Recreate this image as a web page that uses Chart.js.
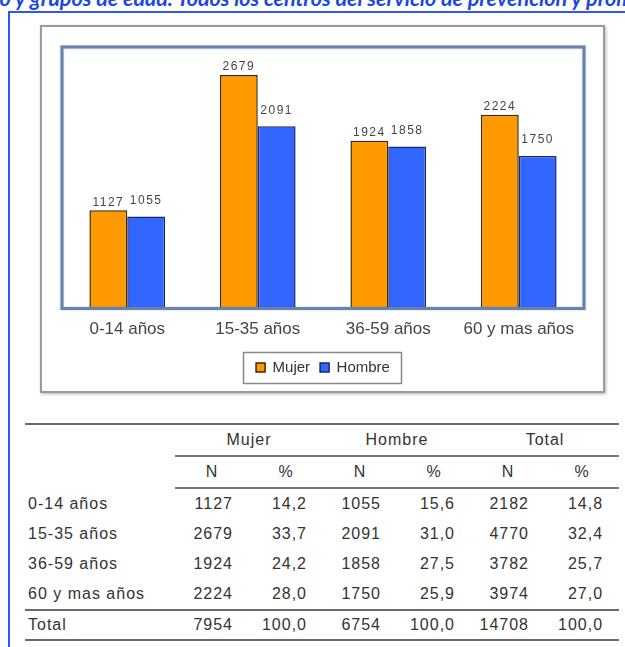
<!DOCTYPE html>
<html>
<head>
<meta charset="utf-8">
<script src="https://cdn.jsdelivr.net/npm/chart.js@4"></script>
<style>
  body { margin: 0; background: #fff; width: 625px; height: 647px; overflow: hidden; position: relative;
         font-family: 'Liberation Sans', Arial, sans-serif; }
  #title { position: absolute; top: -12px; left: 0; white-space: nowrap; font-family: Lato, sans-serif;
           font-weight: 700; font-style: italic; font-size: 21.5px; line-height: 21px; color: #1b46e6; }
  #frame { position: absolute; left: 8px; top: 11px; width: 700px; height: 700px;
           border-left: 2px solid #2c58f0; border-top: 2px solid #2c58f0; }
  #box { position: absolute; left: 40px; top: 25px; width: 565px; height: 368px; box-sizing: border-box;
         border: 2px solid #9a9a9a; box-shadow: 1px 1px 3px rgba(0,0,0,.3); background: #fff; }
  #chart { position: absolute; left: 40px; top: 25px; }
  #tbl { position: absolute; left: 25px; top: 423px; width: 594px; border-collapse: collapse; table-layout: fixed;
         font-size: 16px; color: #333; letter-spacing: 1px; }
  #tbl td { padding: 0 16px 0 0; text-align: right; height: 30px; }
  #tbl td.lab { text-align: left; padding-left: 3px; }
  #tbl tr.h1 td { border-top: 2px solid #6a6a6a; height: 30px; }
  #tbl tr.h1 td.g, #tbl tr.h2 td.g { border-bottom: 2px solid #777; text-align: center; padding: 0; }
  #tbl tr.tot td { border-top: 2px solid #6a6a6a; border-bottom: 2px solid #6a6a6a; height: 28px; }
</style>
</head>
<body>
<div id="title"><span id="pre">Distribución por sex</span>o y grupos de edad. Todos los centros del servicio de prevención y promoción</div>
<div id="frame"></div>
<div id="box"></div>
<canvas id="chart" width="565" height="368"></canvas>
<table id="tbl">
  <colgroup><col style="width:150px"><col style="width:74px"><col style="width:74px"><col style="width:74px"><col style="width:74px"><col style="width:74px"><col style="width:74px"></colgroup>
  <tbody id="tbody"></tbody>
</table>
<script>
// datos
const categories = ['0-14 años', '15-35 años', '36-59 años', '60 y mas años'];
const seriesNames = ['Mujer', 'Hombre'];
const mujer = [1127, 2679, 1924, 2224];
const hombre = [1055, 2091, 1858, 1750];
const mujerPct = ['14,2', '33,7', '24,2', '28,0'];
const hombrePct = ['15,6', '31,0', '27,5', '25,9'];
const totalN = [2182, 4770, 3782, 3974];
const totalPct = ['14,8', '32,4', '25,7', '27,0'];
const totalRow = [7954, '100,0', 6754, '100,0', 14708, '100,0'];

// titulo recortado como en la imagen
var pre = document.getElementById('pre');
document.getElementById('title').style.left = (-pre.offsetWidth) + 'px';

// tabla
var tb = document.getElementById('tbody');
var html = '<tr class="h1"><td></td>' + ['Mujer', 'Hombre', 'Total'].map(function (g) {
  return '<td class="g" colspan="2">' + g + '</td>';
}).join('') + '</tr>';
html += '<tr class="h2"><td></td>' + ['N', '%', 'N', '%', 'N', '%'].map(function (h) {
  return '<td class="g">' + h + '</td>';
}).join('') + '</tr>';
categories.forEach(function (c, i) {
  html += '<tr><td class="lab">' + c + '</td><td>' + mujer[i] + '</td><td>' + mujerPct[i] + '</td><td>' +
    hombre[i] + '</td><td>' + hombrePct[i] + '</td><td>' + totalN[i] + '</td><td>' + totalPct[i] + '</td></tr>';
});
html += '<tr class="tot"><td class="lab">Total</td>' + totalRow.map(function (v) { return '<td>' + v + '</td>'; }).join('') + '</tr>';
tb.innerHTML = html;

// marco del area de trazado
var plotFrame = {
  id: 'plotFrame',
  afterDatasetsDraw: function (chart) {
    var a = chart.chartArea, ctx = chart.ctx;
    ctx.save();
    ctx.strokeStyle = '#6683b0';
    ctx.lineWidth = 3;
    ctx.shadowColor = 'rgba(60,80,120,0.35)';
    ctx.shadowBlur = 2;
    ctx.strokeRect(a.left, a.top, a.right - a.left, a.bottom - a.top);
    ctx.restore();
  }
};

// etiquetas de valor
var labelOffsets = [8, 16];
var valueLabels = {
  id: 'valueLabels',
  afterDatasetsDraw: function (chart) {
    var ctx = chart.ctx;
    ctx.save();
    ctx.font = '12px "Liberation Sans", Arial, sans-serif';
    ctx.letterSpacing = '1.5px';
    ctx.fillStyle = '#444';
    ctx.textAlign = 'center';
    ctx.textBaseline = 'middle';
    chart.data.datasets.forEach(function (ds, i) {
      chart.getDatasetMeta(i).data.forEach(function (bar, j) {
        ctx.fillText(ds.data[j], bar.x, bar.y - labelOffsets[i]);
      });
    });
    ctx.restore();
  }
};

// recuadro de la leyenda
var legendBox = {
  id: 'legendBox',
  afterDraw: function (chart) {
    var hb = chart.legend.legendHitBoxes, ctx = chart.ctx;
    if (!hb || !hb.length) return;
    var l = Math.min.apply(null, hb.map(function (h) { return h.left; })) - 13;
    var r = Math.max.apply(null, hb.map(function (h) { return h.left + h.width; })) + 11;
    var t = hb[0].top - 8, b = hb[0].top + hb[0].height + 8;
    ctx.save();
    ctx.strokeStyle = '#8a8a8a';
    ctx.lineWidth = 1.5;
    ctx.strokeRect(Math.round(l) + 0.5, Math.round(t) + 0.5, Math.round(r - l), Math.round(b - t));
    ctx.restore();
  }
};

Chart.defaults.font.family = "'Liberation Sans', Arial, sans-serif";
Chart.defaults.color = '#3c3c3c';

new Chart(document.getElementById('chart'), {
  type: 'bar',
  data: {
    labels: categories,
    datasets: [{
      label: seriesNames[0],
      data: mujer,
      backgroundColor: '#ff9900',
      borderColor: '#3f2800',
      borderWidth: 1.5
    }, {
      label: seriesNames[1],
      data: hombre,
      backgroundColor: '#3366ff',
      borderColor: '#18266a',
      borderWidth: 1.5
    }]
  },
  options: {
    responsive: false,
    animation: false,
    devicePixelRatio: 1,
    layout: { padding: { left: 22, right: 21, top: 22, bottom: 8 } },
    datasets: { bar: { categoryPercentage: 0.58, barPercentage: 1 } },
    scales: {
      x: {
        grid: { display: false, drawTicks: false },
        border: { display: false },
        ticks: { font: { size: 17 }, color: '#444', padding: 11 },
        afterFit: function (s) { s.height = 41.5; }
      },
      y: { display: false, min: 0, max: 3000 }
    },
    plugins: {
      legend: {
        position: 'bottom',
        labels: { boxWidth: 9, boxHeight: 9, padding: 10, font: { size: 15 }, color: '#333' }
      },
      tooltip: { enabled: false }
    }
  },
  plugins: [plotFrame, valueLabels, legendBox]
});
</script>
</body>
</html>
